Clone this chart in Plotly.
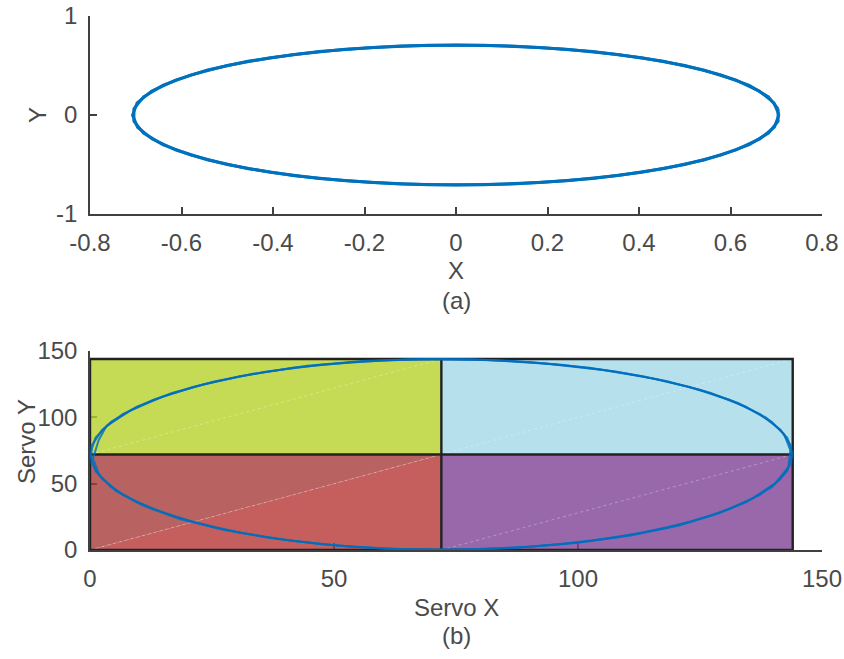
import plotly.graph_objects as go

# ---------------- (a) end-effector trajectory in X/Y -----------------
# two passes around the closed path
traj_x_1 = [0.706, 0.695, 0.663, 0.611, 0.541, 0.453, 0.353, 0.241, 0.122, 0.001,
            -0.122, -0.242, -0.354, -0.455, -0.543, -0.613, -0.665, -0.697, -0.707,
            -0.696, -0.664, -0.612, -0.542, -0.454, -0.353, -0.241, -0.122, 0.000,
            0.123, 0.242, 0.354, 0.455, 0.542, 0.612, 0.664, 0.696, 0.706]
traj_y_1 = [0.002, 0.123, 0.242, 0.354, 0.455, 0.542, 0.612, 0.664, 0.696, 0.707,
            0.696, 0.664, 0.612, 0.542, 0.454, 0.353, 0.241, 0.122, -0.001,
            -0.124, -0.243, -0.354, -0.455, -0.542, -0.613, -0.665, -0.697, -0.707,
            -0.696, -0.664, -0.612, -0.541, -0.454, -0.353, -0.242, -0.122, 0.002]
traj_x_2 = [0.704, 0.683, 0.641, 0.579, 0.500, 0.406, 0.299, 0.183, 0.062,
            -0.062, -0.183, -0.299, -0.406, -0.500, -0.579, -0.641, -0.683, -0.704,
            -0.704, -0.683, -0.641, -0.579, -0.500, -0.406, -0.299, -0.183, -0.062,
            0.062, 0.183, 0.299, 0.406, 0.500, 0.579, 0.641, 0.683, 0.704, 0.704]
traj_y_2 = [0.062, 0.183, 0.299, 0.406, 0.500, 0.579, 0.641, 0.683, 0.704,
            0.704, 0.683, 0.641, 0.579, 0.500, 0.406, 0.299, 0.183, 0.062,
            -0.062, -0.183, -0.299, -0.406, -0.500, -0.579, -0.641, -0.683, -0.704,
            -0.704, -0.683, -0.641, -0.579, -0.500, -0.406, -0.299, -0.183, -0.062, 0.062]

# ---------------- (b) servo commands -----------------
servo_x_1 = [144.0, 142.9, 139.7, 134.4, 127.2, 118.3, 108.0, 96.6, 84.5, 72.0,
             59.5, 47.4, 36.0, 25.7, 16.8, 9.6, 4.3, 1.1, 0.0, 1.1, 4.3, 9.6, 16.8,
             25.7, 36.0, 47.4, 59.5, 72.0, 84.5, 96.6, 108.0, 118.3, 127.2, 134.4,
             139.7, 142.9, 144.0]
servo_y_1 = [72.0, 84.5, 96.6, 108.0, 118.3, 127.2, 134.4, 139.7, 142.9, 144.0,
             142.9, 139.7, 134.4, 127.2, 118.3, 108.0, 96.6, 84.5, 72.0, 59.5, 47.4,
             36.0, 25.7, 16.8, 9.6, 4.3, 1.1, 0.0, 1.1, 4.3, 9.6, 16.8, 25.7, 36.0,
             47.4, 59.5, 72.0]
servo_x_2 = [143.7, 141.5, 137.3, 131.0, 122.9, 113.3, 102.4, 90.6, 78.3, 65.7,
             53.4, 41.6, 30.7, 21.1, 13.0, 6.7, 2.5, 0.3, 0.3, 2.5, 6.7, 13.0, 21.1,
             30.7, 41.6, 53.4, 65.7, 78.3, 90.6, 102.4, 113.3, 122.9, 131.0, 137.3,
             141.5, 143.7, 143.7]
servo_y_2 = [78.3, 90.6, 102.4, 113.3, 122.9, 131.0, 137.3, 141.5, 143.7, 143.7,
             141.5, 137.3, 131.0, 122.9, 113.3, 102.4, 90.6, 78.3, 65.7, 53.4, 41.6,
             30.7, 21.1, 13.0, 6.7, 2.5, 0.3, 0.3, 2.5, 6.7, 13.0, 21.1, 30.7, 41.6,
             53.4, 65.7, 78.3]
servo_x_3 = [143.5, 142.2, 138.6, 132.8, 125.1, 115.8, 105.2, 93.6, 81.4, 68.9,
             56.5, 44.5, 33.4, 23.3, 14.9, 8.2, 3.4, 1.8, 0.6, 1.9, 5.3, 10.9,
             18.4, 27.8, 38.6, 50.2, 62.5, 75.1, 87.6, 99.6, 110.8, 120.7, 129.0,
             135.6, 140.4, 143.1, 143.5]
servo_y_3 = [75.3, 87.6, 99.6, 110.8, 120.7, 129.0, 135.6, 140.4, 143.3, 144.0,
             142.6, 138.8, 132.8, 125.0, 115.6, 104.9, 93.6, 83.0, 69.0, 56.5, 44.5,
             33.4, 23.3, 14.9, 8.2, 3.4, 0.6, 0.1, 1.9, 5.3, 10.9, 18.4, 27.8, 38.6,
             50.2, 62.5, 75.3]

# quadrant boundaries of the servo workspace
servo_edges = [0, 72, 144]
quad_colors = {
    "upper_left": "rgba(183,210,43,0.8)",
    "upper_right": "rgba(163,216,231,0.8)",
    "lower_left_a": "rgba(168,59,59,0.8)",
    "lower_left_b": "rgba(181,55,54,0.8)",
    "lower_right": "rgba(126,66,149,0.8)",
}

x_ticks_a = [-0.8, -0.6, -0.4, -0.2, 0, 0.2, 0.4, 0.6, 0.8]
x_labels_a = ["-0.8", "-0.6", "-0.4", "-0.2", "0", "0.2", "0.4", "0.6", "0.8"]
y_ticks_a = [-1, 0, 1]
y_labels_a = ["-1", "0", "1"]
servo_ticks = [0, 50, 100, 150]
servo_labels = ["0", "50", "100", "150"]

LINE_BLUE = "#0072BD"
AXIS_GREY = "#404040"
TEXT_GREY = "#4a4a4a"
FONT = "Liberation Sans, Arial, sans-serif"

fig = go.Figure()

for tx, ty in [(traj_x_1, traj_y_1), (traj_x_2, traj_y_2)]:
    fig.add_trace(go.Scatter(x=tx, y=ty, mode="lines",
                             line=dict(color=LINE_BLUE, width=3),
                             xaxis="x", yaxis="y", showlegend=False, hoverinfo="skip"))

# workspace quadrants
e0, e1, e2 = servo_edges
quads = [
    ([e0, e1, e1, e0, e0], [e1, e1, e2, e2, e1], quad_colors["upper_left"]),
    ([e1, e2, e2, e1, e1], [e1, e1, e2, e2, e1], quad_colors["upper_right"]),
    ([e0, e1, e0, e0], [e0, e1, e1, e0], quad_colors["lower_left_a"]),
    ([e0, e1, e1, e0], [e0, e0, e1, e0], quad_colors["lower_left_b"]),
    ([e1, e2, e2, e1, e1], [e0, e0, e1, e1, e0], quad_colors["lower_right"]),
]
for qx, qy, qc in quads:
    fig.add_trace(go.Scatter(x=qx, y=qy, mode="lines", fill="toself", fillcolor=qc,
                             line=dict(width=0, color=qc),
                             xaxis="x2", yaxis="y2", showlegend=False, hoverinfo="skip"))

# faint patch diagonals
diag_x = [e0, e1, None, e1, e2, None, e0, e1, None, e1, e2]
diag_y = [e1, e2, None, e1, e2, None, e0, e1, None, e0, e1]
fig.add_trace(go.Scatter(x=diag_x, y=diag_y, mode="lines",
                         line=dict(color="rgba(255,255,255,0.3)", width=1, dash="dot"),
                         xaxis="x2", yaxis="y2", showlegend=False, hoverinfo="skip"))

# quadrant borders
border_x = [e0, e2, e2, e0, e0, None, e1, e1, None, e0, e2]
border_y = [e0, e0, e2, e2, e0, None, e0, e2, None, e1, e1]
fig.add_trace(go.Scatter(x=border_x, y=border_y, mode="lines",
                         line=dict(color="#222222", width=2.4),
                         xaxis="x2", yaxis="y2", showlegend=False, hoverinfo="skip"))

for sx, sy in [(servo_x_1, servo_y_1), (servo_x_2, servo_y_2), (servo_x_3, servo_y_3)]:
    fig.add_trace(go.Scatter(x=sx, y=sy, mode="lines",
                             line=dict(color="rgba(0,110,190,0.8)", width=2),
                             xaxis="x2", yaxis="y2", showlegend=False, hoverinfo="skip"))

W, H = 844, 659
def px(v):
    return v / W
def py(v):
    return 1 - v / H

axis_common = dict(showline=True, linecolor=AXIS_GREY, linewidth=1.5, mirror=False,
                   ticks="inside", ticklen=7, tickwidth=1.5, tickcolor=AXIS_GREY,
                   showgrid=False, zeroline=False, automargin=False,
                   tickfont=dict(family=FONT, size=24, color=TEXT_GREY))

fig.update_layout(
    width=W, height=H,
    margin=dict(l=0, r=0, t=0, b=0),
    paper_bgcolor="white", plot_bgcolor="white",
    xaxis=dict(domain=[px(90), px(822)], range=[-0.8, 0.8], tickvals=x_ticks_a,
               ticktext=x_labels_a, anchor="y", ticklabelstandoff=6, **axis_common),
    yaxis=dict(domain=[py(214), py(16)], range=[-1, 1], tickvals=y_ticks_a,
               ticktext=y_labels_a, anchor="x", ticklabelstandoff=6, **axis_common),
    xaxis2=dict(domain=[px(90), px(822)], range=[0, 150], tickvals=servo_ticks,
                ticktext=servo_labels, anchor="y2", ticklabelstandoff=6,
                layer="below traces", **axis_common),
    yaxis2=dict(domain=[py(550), py(351)], range=[0, 150], tickvals=servo_ticks,
                ticktext=servo_labels, anchor="x2", ticklabelstandoff=6,
                layer="below traces", **axis_common),
)

label_font = dict(family=FONT, size=24, color=TEXT_GREY)
labels = [
    ("X", px(456), py(270), 0),
    ("(a)", px(456), py(301), 0),
    ("Y", px(37), py(115), -90),
    ("Servo X", px(456), py(607), 0),
    ("(b)", px(456), py(635), 0),
    ("Servo Y", px(26), py(442), -90),
]
for text, ax_, ay_, rot in labels:
    fig.add_annotation(text=text, x=ax_, y=ay_, xref="paper", yref="paper",
                       xanchor="center", yanchor="middle", showarrow=False,
                       textangle=rot, font=label_font)

fig.write_html("out.html")
